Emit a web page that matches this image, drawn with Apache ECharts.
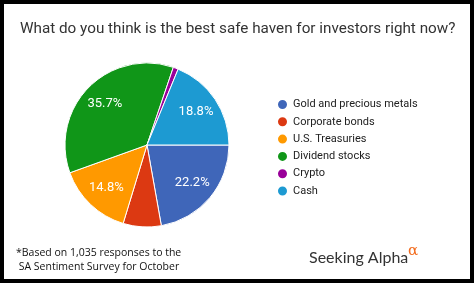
<!DOCTYPE html>
<html>
<head>
<meta charset="utf-8">
<script src="https://cdn.jsdelivr.net/npm/echarts@6/dist/echarts.min.js"></script>
<style>
html,body{margin:0;padding:0;background:#fff;}
#chart{width:474px;height:283px;}
</style>
</head>
<body>
<div id="chart"></div>
<script>
const titleText = 'What do you think is the best safe haven for investors right now?';
const categories = ['Gold and precious metals', 'Corporate bonds', 'U.S. Treasuries', 'Dividend stocks', 'Crypto', 'Cash'];
const values = [22.2, 7.5, 14.8, 35.7, 1.0, 18.8];
const colors = ['#3f66b9', '#dc3912', '#ff9900', '#109618', '#990099', '#1d9ad2'];
const footnoteLines = ['*Based on 1,035 responses to the', ' SA Sentiment Survey for October'];

const pieData = categories.map((c, i) => ({name: c, value: values[i]}));
const chart = echarts.init(document.getElementById('chart'), null, {renderer: 'canvas'});
chart.setOption({
  backgroundColor: '#ffffff',
  animation: false,
  color: colors,
  title: {
    text: titleText,
    left: 15,
    top: 17,
    textStyle: {fontFamily: 'Roboto', fontSize: 15.25, fontWeight: 'normal', color: '#333333'}
  },
  legend: {
    orient: 'vertical',
    left: 271,
    top: 93,
    itemWidth: 11,
    itemHeight: 11,
    itemGap: 4.3,
    icon: 'circle',
    textStyle: {fontFamily: 'Roboto', fontSize: 11, color: '#222222', padding: [0, 0, 0, 0]},
    data: categories
  },
  series: [{
    type: 'pie',
    center: [147, 145],
    radius: [0, 82],
    startAngle: 0,
    clockwise: true,
    itemStyle: {borderColor: '#ffffff', borderWidth: 1},
    label: {show: false},
    labelLine: {show: false},
    emphasis: {disabled: true},
    data: pieData
  }, {
    type: 'pie',
    center: [147, 145],
    radius: [30, 82],
    startAngle: 0,
    clockwise: true,
    silent: true,
    itemStyle: {color: 'rgba(0,0,0,0)', borderWidth: 0},
    label: {
      show: true,
      position: 'inner',
      formatter: p => p.value >= 10 ? p.value.toFixed(1) + '%' : '',
      color: '#ffffff',
      fontFamily: 'Roboto',
      fontSize: 13
    },
    labelLine: {show: false},
    emphasis: {disabled: true},
    data: pieData
  }],
  graphic: [
    {type: 'text', left: 16, top: 246, style: {text: footnoteLines.join('\n'), font: '10.5px "Open Sans", sans-serif', fill: '#111', lineHeight: 14}},
    {type: 'text', left: 309, top: 250, style: {text: 'Seeking Alpha', font: '16px Lato, sans-serif', fill: '#333'}},
    {type: 'text', left: 408, top: 244, style: {text: 'α', font: '15px "DejaVu Serif", serif', fill: '#f26b1d'}},
    {type: 'rect', shape: {x: 0, y: 0, width: 474, height: 283}, style: {fill: 'none', stroke: '#000', lineWidth: 8}, silent: true}
  ]
});
</script>
</body>
</html>
